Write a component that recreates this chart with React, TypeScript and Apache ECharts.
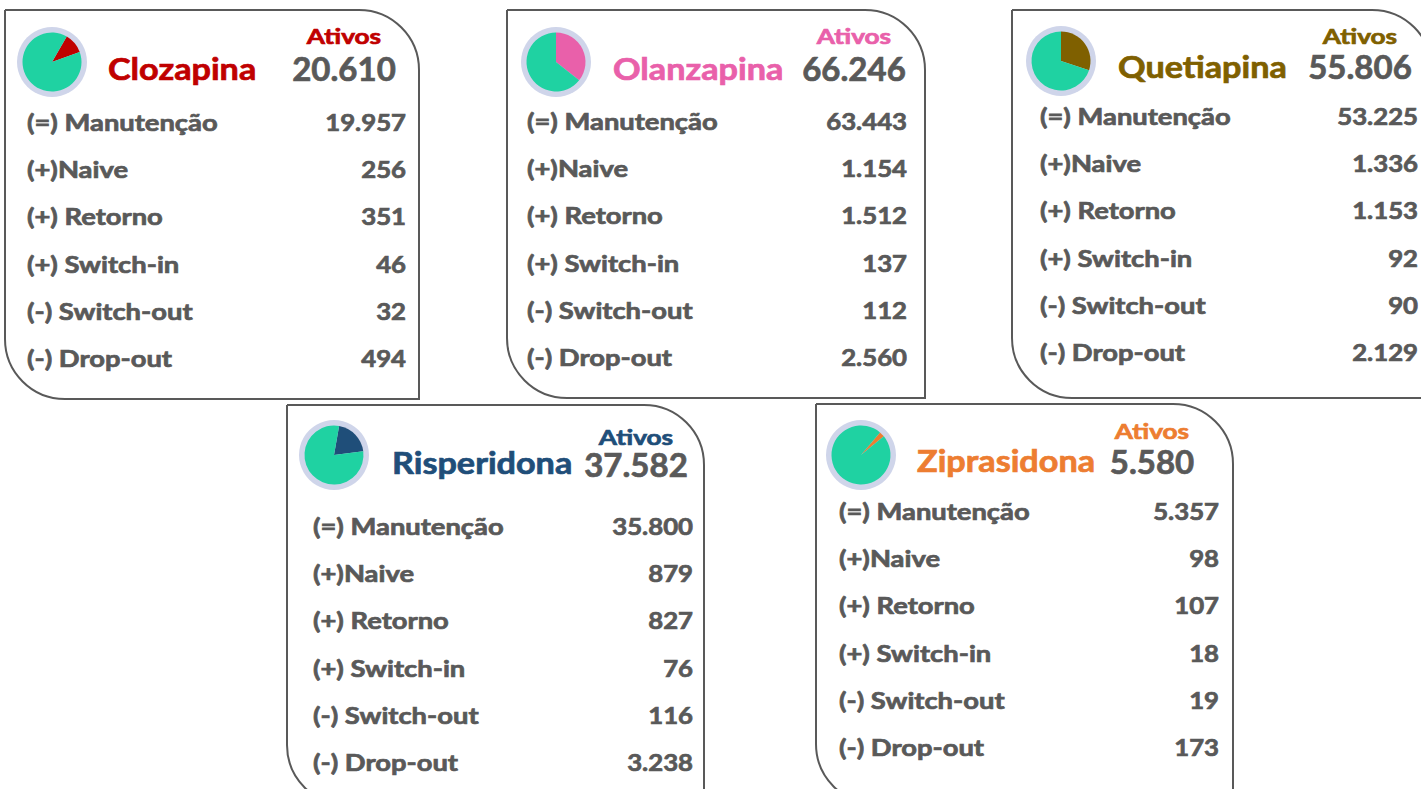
import React, { useEffect, useRef } from "react";
import * as echarts from "echarts";

// ---------- DATA ----------
const drugs = ["Clozapina", "Olanzapina", "Quetiapina", "Risperidona", "Ziprasidona"];
const ativos = [20610, 66246, 55806, 37582, 5580];
const rowLabels = ["(=) Manutenção", "(+)Naive", "(+) Retorno", "(+) Switch-in", "(-) Switch-out", "(-) Drop-out"];
const manutencao = [19957, 63443, 53225, 35800, 5357];
const naive = [256, 1154, 1336, 879, 98];
const retorno = [351, 1512, 1153, 827, 107];
const switchIn = [46, 137, 92, 76, 18];
const switchOut = [32, 112, 90, 116, 19];
const dropOut = [494, 2560, 2129, 3238, 173];
const ativosLabel = "Ativos";

// ---------- STYLE / LAYOUT ----------
const drugColors = ["#c00000", "#e960aa", "#7f6000", "#1f4e79", "#ed7d31"];
const TEAL = "#1fd2a2";
const RING = "#cfd5ea";
const GRAY = "#595959";
const FONT = "Lato, 'Open Sans', sans-serif";

type Card = {
  bx: number; by: number; bw: number; bh: number;
  pie: [number, number]; start: number;
  nameX: number; nameY: number;
  ativX: number; ativY: number; numY: number;
  labelX: number; valueX: number; row0: number;
};
const cards: Card[] = [
  { bx: 5, by: 10, bw: 414, bh: 389, pie: [52, 62], start: 60, nameX: 108, nameY: 68, ativX: 344, ativY: 35, numY: 68, labelX: 27, valueX: 406, row0: 122 },
  { bx: 507, by: 10, bw: 418, bh: 388, pie: [556, 62], start: 90, nameX: 613, nameY: 68, ativX: 854, ativY: 35, numY: 68, labelX: 527, valueX: 907, row0: 121 },
  { bx: 1012, by: 10, bw: 420, bh: 388, pie: [1061, 61], start: 90, nameX: 1118, nameY: 66, ativX: 1360, ativY: 35, numY: 66, labelX: 1040, valueX: 1418, row0: 116 },
  { bx: 287, by: 405, bw: 417, bh: 400, pie: [334, 455], start: 80, nameX: 392, nameY: 462, ativX: 636, ativY: 436, numY: 464, labelX: 313, valueX: 693, row0: 526 },
  { bx: 816, by: 404, bw: 417, bh: 400, pie: [861, 455], start: 50, nameX: 917, nameY: 460, ativX: 1152, ativY: 430, numY: 461, labelX: 839, valueX: 1219, row0: 511 },
];
const ROW_STEP = 47.2;

function fmt(n: number): string {
  return String(n).replace(/\B(?=(\d{3})+(?!\d))/g, ".");
}

function txt(text: string, x: number, y: number, size: number, fill: string, align: string, sx: number) {
  return {
    type: "text",
    z: 10,
    silent: true,
    x, y,
    scaleX: sx,
    style: {
      text, x: 0, y: 0, fill,
      stroke: fill, lineWidth: 0.7,
      font: `bold ${size}px ${FONT}`,
      align, textAlign: align,
      verticalAlign: "middle", textVerticalAlign: "middle",
    },
  };
}

export default function App() {
  const ref = useRef<HTMLDivElement>(null);
  useEffect(() => {
    if (!ref.current) return;
    const chart = echarts.init(ref.current, undefined, { renderer: "svg" });
    const total = ativos.reduce((a, b) => a + b, 0);
    const rowValues = [manutencao, naive, retorno, switchIn, switchOut, dropOut];

    const series: any[] = [];
    const graphic: any[] = [];
    cards.forEach((c, i) => {
      series.push({
        type: "pie", silent: true, z: 1, center: c.pie, radius: [0, 35],
        label: { show: false }, labelLine: { show: false },
        data: [{ value: 1, itemStyle: { color: RING } }],
      });
      series.push({
        type: "pie", silent: true, z: 2, center: c.pie, radius: [0, 29.5],
        startAngle: c.start, clockwise: true,
        label: { show: false }, labelLine: { show: false },
        itemStyle: { borderWidth: 0 },
        data: [
          { name: drugs[i], value: ativos[i], itemStyle: { color: drugColors[i] } },
          { name: "Outros", value: total - ativos[i], itemStyle: { color: TEAL } },
        ],
      });
      graphic.push({
        type: "rect", z: 0, silent: true,
        shape: { x: c.bx, y: c.by, width: c.bw, height: c.bh, r: [0, 60, 0, 60] },
        style: { fill: "transparent", stroke: GRAY, lineWidth: 2 },
      });
      graphic.push(txt(drugs[i], c.nameX, c.nameY, 30, drugColors[i], "left", 1.14));
      graphic.push(txt(ativosLabel, c.ativX, c.ativY, 21.5, drugColors[i], "center", 1.22));
      graphic.push(txt(fmt(ativos[i]), c.ativX, c.numY, 33, GRAY, "center", 1.0));
      rowLabels.forEach((lab, r) => {
        const y = c.row0 + r * ROW_STEP;
        graphic.push(txt(lab, c.labelX, y, 23, GRAY, "left", 1.19));
        graphic.push(txt(fmt(rowValues[r][i]), c.valueX, y, 23, GRAY, "right", 1.12));
      });
    });

    chart.setOption({
      animation: false,
      backgroundColor: "#ffffff",
      series,
      graphic,
    });
    return () => chart.dispose();
  }, []);
  return (
    <div
      ref={ref}
      style={{ position: "fixed", left: 0, top: 0, width: 1421, height: 789 }}
    />
  );
}
